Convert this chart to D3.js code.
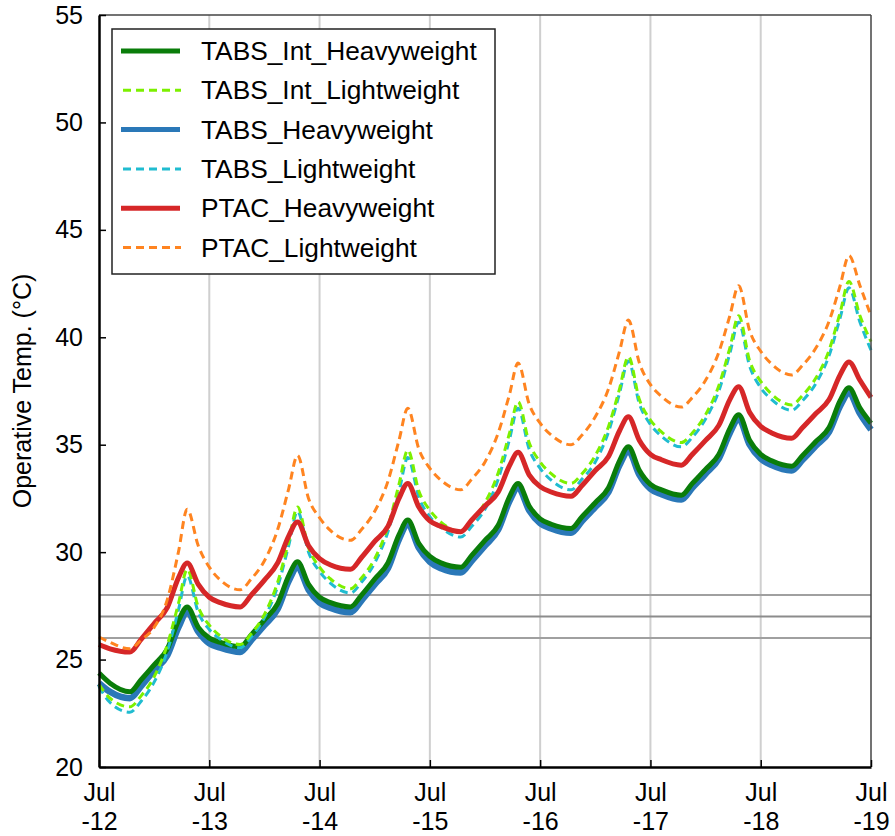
<!DOCTYPE html>
<html>
<head>
<meta charset="utf-8">
<script src="https://cdn.jsdelivr.net/npm/d3@7"></script>
<style>
  body { margin: 0; background: #fff; }
  text { font-family: Arial, "Liberation Sans", sans-serif; fill: #000; }
</style>
</head>
<body>
<script>
// time in days since Jul-12 00:00
const days = [
  0, 0.1, 0.28, 0.38, 0.5, 0.62, 0.72, 0.8, 0.9,
  1, 1.1, 1.28, 1.38, 1.5, 1.62, 1.72, 1.8, 1.9,
  2, 2.1, 2.28, 2.38, 2.5, 2.62, 2.72, 2.8, 2.9,
  3, 3.1, 3.28, 3.38, 3.5, 3.62, 3.72, 3.8, 3.9,
  4, 4.1, 4.28, 4.38, 4.5, 4.62, 4.72, 4.8, 4.9,
  5, 5.1, 5.28, 5.38, 5.5, 5.62, 5.72, 5.8, 5.9,
  6, 6.1, 6.28, 6.38, 6.5, 6.62, 6.72, 6.8, 6.9,
  7
]

const tabsIntHeavy = [
  24.37, 23.9, 23.5, 24.05, 24.75, 25.5, 26.8, 27.45, 26.5,
  26.0, 25.8, 25.6, 26.15, 26.85, 27.6, 28.9, 29.55, 28.5,
  27.9, 27.65, 27.45, 28.0, 28.75, 29.5, 30.8, 31.5, 30.4,
  29.8, 29.5, 29.3, 29.85, 30.55, 31.25, 32.55, 33.2, 32.15,
  31.55, 31.3, 31.1, 31.65, 32.3, 33.0, 34.25, 34.9, 33.8,
  33.15, 32.9, 32.65, 33.2, 33.85, 34.55, 35.75, 36.4, 35.2,
  34.55, 34.25, 34.0, 34.5, 35.15, 35.8, 37.05, 37.65, 36.7,
  36.0
]
const tabsIntLight = [
  23.85, 23.2, 22.8, 23.3, 24.2, 25.7, 27.6, 29.2, 27.45,
  26.6, 26.1, 25.7, 26.2, 27.1, 28.6, 30.5, 32.1, 30.2,
  29.3, 28.75, 28.3, 28.8, 29.7, 31.2, 33.15, 34.75, 32.85,
  31.95, 31.4, 30.95, 31.45, 32.3, 33.7, 35.5, 37.0, 35.1,
  34.2, 33.65, 33.2, 33.65, 34.5, 35.85, 37.6, 39.1, 37.1,
  36.15, 35.6, 35.1, 35.55, 36.4, 37.75, 39.5, 41.0, 38.9,
  37.95, 37.35, 36.85, 37.3, 38.1, 39.4, 41.15, 42.6, 41.0,
  39.8
]
const tabsHeavy = [
  23.9, 23.5, 23.2, 23.75, 24.5, 25.2, 26.5, 27.2, 26.3,
  25.75, 25.55, 25.35, 25.9, 26.6, 27.35, 28.65, 29.3, 28.25,
  27.65, 27.4, 27.2, 27.75, 28.5, 29.25, 30.6, 31.3, 30.2,
  29.55, 29.25, 29.05, 29.6, 30.3, 31.05, 32.35, 33.0, 31.95,
  31.35, 31.1, 30.9, 31.45, 32.1, 32.8, 34.05, 34.7, 33.6,
  32.95, 32.7, 32.45, 33.0, 33.65, 34.35, 35.55, 36.2, 35.0,
  34.35, 34.05, 33.8, 34.3, 34.95, 35.6, 36.8, 37.4, 36.45,
  35.7
]
const tabsLight = [
  23.75, 23.0, 22.55, 23.05, 23.95, 25.4, 27.3, 28.9, 27.2,
  26.4, 25.95, 25.55, 26.05, 26.95, 28.4, 30.3, 31.9, 30.0,
  29.1, 28.55, 28.1, 28.6, 29.5, 30.95, 32.8, 34.4, 32.55,
  31.65, 31.15, 30.7, 31.2, 32.0, 33.4, 35.2, 36.7, 34.8,
  33.9, 33.35, 32.9, 33.4, 34.2, 35.6, 37.4, 38.9, 36.9,
  35.95, 35.4, 34.9, 35.35, 36.2, 37.5, 39.25, 40.7, 38.65,
  37.65, 37.1, 36.6, 37.05, 37.85, 39.15, 40.9, 42.3, 40.7,
  39.4
]
const ptacHeavy = [
  25.7, 25.5, 25.35, 25.93, 26.68, 27.43, 28.8, 29.5, 28.5,
  27.9, 27.65, 27.45, 28.0, 28.7, 29.5, 30.75, 31.4, 30.3,
  29.7, 29.4, 29.2, 29.75, 30.5, 31.2, 32.5, 33.2, 32.1,
  31.45, 31.2, 30.95, 31.5, 32.15, 32.8, 34.0, 34.65, 33.6,
  33.05, 32.8, 32.6, 33.1, 33.8, 34.45, 35.65, 36.3, 35.2,
  34.55, 34.3, 34.05, 34.55, 35.2, 35.9, 37.1, 37.7, 36.5,
  35.85, 35.55, 35.3, 35.8, 36.45, 37.1, 38.25, 38.85, 38.0,
  37.2
]
const ptacLight = [
  26.05, 25.8, 25.5, 25.9, 26.5, 27.8, 30.0, 32.0, 30.3,
  29.3, 28.7, 28.25, 28.75, 29.6, 31.05, 32.95, 34.5, 32.5,
  31.6, 31.0, 30.55, 31.05, 31.9, 33.3, 35.2, 36.7, 34.8,
  33.9, 33.35, 32.9, 33.4, 34.2, 35.55, 37.3, 38.8, 36.9,
  36.0, 35.45, 35.0, 35.45, 36.3, 37.6, 39.35, 40.8, 38.8,
  37.8, 37.25, 36.75, 37.2, 38.0, 39.3, 41.0, 42.4, 40.3,
  39.35, 38.75, 38.25, 38.7, 39.5, 40.75, 42.4, 43.8, 42.4,
  41.0
]

const seriesNames = ['TABS_Int_Heavyweight', 'TABS_Int_Lightweight', 'TABS_Heavyweight',
  'TABS_Lightweight', 'PTAC_Heavyweight', 'PTAC_Lightweight']
const xTickLabels = ['-12', '-13', '-14', '-15', '-16', '-17', '-18', '-19']
const yTicks = [20, 25, 30, 35, 40, 45, 50, 55]
const refLines = [26, 27, 28]

const width = 895
const height = 836
const margin = { top: 15, right: 24, bottom: 69, left: 99 }

const series = [
  { name: seriesNames[0], values: tabsIntHeavy, color: '#0a7d0a', width: 5, dash: null },
  { name: seriesNames[1], values: tabsIntLight, color: '#7cf000', width: 3, dash: '8,5' },
  { name: seriesNames[2], values: tabsHeavy, color: '#2a78b8', width: 6.5, dash: null },
  { name: seriesNames[3], values: tabsLight, color: '#20bcd0', width: 3, dash: '8,5' },
  { name: seriesNames[4], values: ptacHeavy, color: '#d62728', width: 5, dash: null },
  { name: seriesNames[5], values: ptacLight, color: '#ff8420', width: 3, dash: '8,5' }
]
// draw order: blue under green, cyan under lime
const drawOrder = [2, 0, 3, 1, 4, 5]

const svg = d3.select('body').append('svg')
  .attr('width', width)
  .attr('height', height)

const x = d3.scaleLinear().domain([0, 7]).range([margin.left, width - margin.right])
const y = d3.scaleLinear().domain([20, 55]).range([height - margin.bottom, margin.top])

// vertical grid
svg.append('g')
  .selectAll('line')
  .data(d3.range(1, 7))
  .join('line')
  .attr('x1', d => x(d)).attr('x2', d => x(d))
  .attr('y1', y(20)).attr('y2', y(55))
  .attr('stroke', '#cfcfcf')
  .attr('stroke-width', 2)

// comfort band lines
svg.append('g')
  .selectAll('line')
  .data(refLines)
  .join('line')
  .attr('x1', x(0)).attr('x2', x(7))
  .attr('y1', d => y(d)).attr('y2', d => y(d))
  .attr('stroke', d => d === 27 ? '#8c8c8c' : '#a0a0a0')
  .attr('stroke-width', 2)

const line = d3.line()
  .x((d, i) => x(days[i]))
  .y(d => y(d))
  .curve(d3.curveMonotoneX)

svg.append('g')
  .selectAll('path')
  .data(drawOrder.map(i => series[i]))
  .join('path')
  .attr('d', d => line(d.values))
  .attr('fill', 'none')
  .attr('stroke', d => d.color)
  .attr('stroke-width', d => d.width)
  .attr('stroke-dasharray', d => d.dash)
  .attr('stroke-linejoin', 'round')

// frame
svg.append('line')
  .attr('x1', x(0)).attr('x2', x(7)).attr('y1', y(55)).attr('y2', y(55))
  .attr('stroke', '#444').attr('stroke-width', 1.5)
svg.append('line')
  .attr('x1', x(7)).attr('x2', x(7)).attr('y1', y(55)).attr('y2', y(20))
  .attr('stroke', '#444').attr('stroke-width', 1.5)

// axes with inward ticks
const yAxis = d3.axisLeft(y).tickValues(yTicks).tickSizeInner(-7).tickSizeOuter(0).tickPadding(16)
const gy = svg.append('g').attr('transform', `translate(${x(0)},0)`).call(yAxis)
gy.select('.domain').attr('stroke', '#000').attr('stroke-width', 2.5)
gy.selectAll('.tick line').attr('stroke', '#000').attr('stroke-width', 1.5)
gy.selectAll('.tick text').attr('font-size', 25).attr('font-family', 'Arial, "Liberation Sans", sans-serif')

const xAxis = d3.axisBottom(x).tickValues(d3.range(0, 8)).tickSizeInner(-7).tickSizeOuter(0).tickFormat(() => '')
const gx = svg.append('g').attr('transform', `translate(0,${y(20)})`).call(xAxis)
gx.select('.domain').attr('stroke', '#000').attr('stroke-width', 2.5)
gx.selectAll('.tick line').attr('stroke', '#000').attr('stroke-width', 1.5)
gx.selectAll('.tick').each(function (d, i) {
  const t = d3.select(this).append('text')
    .attr('text-anchor', 'middle')
    .attr('font-size', 25)
    .attr('fill', '#000')
  t.append('tspan').attr('x', 0).attr('y', 34).text('Jul')
  t.append('tspan').attr('x', 0).attr('y', 63).text(xTickLabels[i])
})

// y label
svg.append('text')
  .attr('transform', `translate(31,${(y(20) + y(55)) / 2}) rotate(-90)`)
  .attr('text-anchor', 'middle')
  .attr('font-size', 25)
  .text('Operative Temp. (°C)')

// legend
const legend = svg.append('g')
legend.append('rect')
  .attr('x', 112).attr('y', 29).attr('width', 383).attr('height', 245)
  .attr('fill', '#fff').attr('stroke', '#222').attr('stroke-width', 1.5)
const rows = legend.selectAll('g.row')
  .data(series)
  .join('g')
  .attr('class', 'row')
  .attr('transform', (d, i) => `translate(0,${51 + i * 39.3})`)
rows.append('line')
  .attr('x1', d => d.dash ? 123 : 121).attr('x2', d => d.dash ? 181 : 180)
  .attr('stroke', d => d.color)
  .attr('stroke-width', d => d.dash ? 3 : 5)
  .attr('stroke-dasharray', d => d.dash)
rows.append('text')
  .attr('x', 201).attr('y', 9)
  .attr('font-size', 26.3)
  .text(d => d.name)
</script>
</body>
</html>
